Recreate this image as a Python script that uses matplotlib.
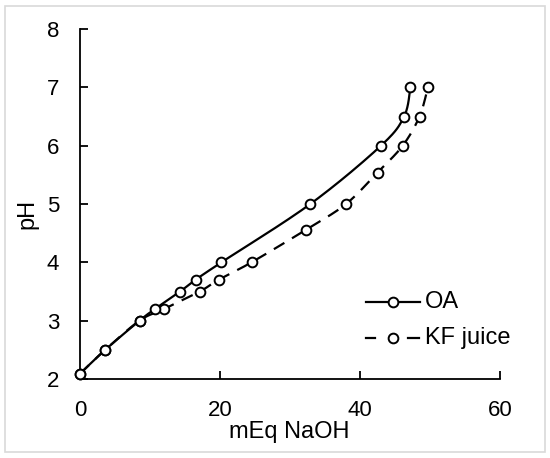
import numpy as np
import matplotlib.pyplot as plt
from matplotlib.patches import Rectangle

# titration data
oa_x = [0, 3.6, 8.5, 10.7, 14.3, 16.5, 20.2, 32.9, 43.0, 46.3, 47.2]
oa_ph = [2.09, 2.5, 3.0, 3.2, 3.5, 3.7, 4.0, 5.0, 6.0, 6.5, 7.0]
kf_x = [0, 3.6, 8.5, 12.0, 17.1, 19.8, 24.5, 32.3, 38.0, 42.5, 46.1, 48.5, 49.7]
kf_ph = [2.09, 2.5, 3.0, 3.2, 3.5, 3.7, 4.0, 4.56, 5.0, 5.54, 6.0, 6.5, 7.0]
x_ticks = [0, 20, 40, 60]
y_ticks = [2, 3, 4, 5, 6, 7, 8]


def smooth(ax, xs, ys, n=30):
    # Excel-like smoothed line: bezier with catmull-rom control points, in pixel space
    pts = ax.transData.transform(np.column_stack([xs, ys]))
    p = np.vstack([pts[0], pts, pts[-1]])
    out = []
    t = np.linspace(0, 1, n)[:, None]
    for i in range(1, len(p) - 2):
        p0, p1, p2, p3 = p[i - 1], p[i], p[i + 1], p[i + 2]
        c1 = p1 + (p2 - p0) / 6
        c2 = p2 - (p3 - p1) / 6
        seg = ((1 - t) ** 3) * p1 + 3 * ((1 - t) ** 2) * t * c1 + 3 * (1 - t) * t ** 2 * c2 + t ** 3 * p2
        out.append(seg)
    out = np.vstack(out)
    d = ax.transData.inverted().transform(out)
    return d[:, 0], d[:, 1]


plt.rcParams['font.family'] = ['Liberation Sans', 'DejaVu Sans']
W, H = 550, 458

fig = plt.figure(figsize=(5.5, 4.58), dpi=100)
fig.patches.append(Rectangle((5 / W, 6 / H), 540 / W, 446 / H, transform=fig.transFigure,
                             fill=False, edgecolor='#d9d9d9', linewidth=1.2))
ax = fig.add_axes([80 / W, 1 - 379 / H, 420 / W, 350 / H])
ax.set_xlim(0, 60)
ax.set_ylim(2, 8)

sx, sy = smooth(ax, kf_x, kf_ph)
ax.plot(sx, sy, color='black', lw=1.6, linestyle=(0, (5.5, 4)), zorder=2)
sx, sy = smooth(ax, oa_x, oa_ph)
ax.plot(sx, sy, color='black', lw=1.6, zorder=3)

mk = dict(marker='o', markersize=7, markerfacecolor='white', markeredgecolor='black',
          markeredgewidth=1.4, linestyle='none', clip_on=False)
ax.plot(kf_x, kf_ph, zorder=4, **mk)
ax.plot(oa_x, oa_ph, zorder=5, **mk)


def fx(px):
    return px / W


def fy(py):
    return 1 - py / H


# legend drawn by hand to match the layout
legend_rows = [(302, [(366, 420)], 'OA'), (338, [(366, 375), (408, 419)], 'KF juice')]
for yy, segs, label in legend_rows:
    for a, b in segs:
        fig.add_artist(plt.Line2D([fx(a), fx(b)], [fy(yy), fy(yy)], color='black', lw=1.6,
                                  transform=fig.transFigure))
    fig.add_artist(plt.Line2D([fx(393)], [fy(yy)], transform=fig.transFigure, marker='o',
                              markersize=7, markerfacecolor='white', markeredgecolor='black',
                              markeredgewidth=1.4))
    fig.text(fx(425), fy(yy), label, fontsize=17, va='center', ha='left')

for s in ['top', 'right']:
    ax.spines[s].set_visible(False)
for s in ['left', 'bottom']:
    ax.spines[s].set_linewidth(1.3)
ax.set_xticks(x_ticks)
ax.set_yticks(y_ticks)
ax.tick_params(direction='in', length=6, width=1.3, labelsize=16, pad=15)

fig.text(fx(289), fy(438), 'mEq NaOH', fontsize=17, ha='center', va='baseline')
fig.text(fx(27.5), fy(214), 'pH', fontsize=17, ha='center', va='center', rotation=90)

fig.savefig('out.png', dpi=100)
